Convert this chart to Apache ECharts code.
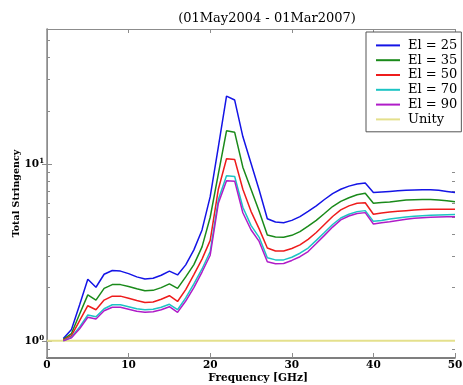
<!DOCTYPE html>
<html>
<head>
<meta charset="utf-8">
<script src="https://cdn.jsdelivr.net/npm/echarts@6/dist/echarts.min.js"></script>
<style>
  html, body { margin: 0; padding: 0; background: #fff; }
  #chart { width: 463px; height: 385px; }
</style>
</head>
<body>
<div id="chart"></div>
<script>
// frequency grid, GHz
const freqs = [];
for (let f = 2; f <= 50; f++) freqs.push(f);

const el25 = [
  1.03, 1.16, 1.6, 2.23, 2.01, 2.38, 2.50, 2.48, 2.40, 2.30,
  2.24, 2.26, 2.35, 2.48, 2.36, 2.69, 3.27, 4.24, 6.54, 12.5,
  24.2, 23.0, 14.3, 10.1, 7.13, 4.9, 4.7, 4.66, 4.8, 5.04,
  5.4, 5.8, 6.3, 6.8, 7.2, 7.5, 7.7, 7.8, 6.9, 6.95,
  7.0, 7.05, 7.1, 7.13, 7.15, 7.15, 7.1, 7.0, 6.9
];
const el35 = [
  1.02, 1.1, 1.42, 1.82, 1.70, 1.98, 2.08, 2.08, 2.03, 1.97,
  1.92, 1.93, 2.0, 2.10, 1.98, 2.3, 2.7, 3.4, 5.0, 8.8,
  15.4, 15.1, 9.6, 7.2, 5.4, 3.97, 3.87, 3.85, 3.95, 4.15,
  4.45, 4.8, 5.25, 5.75, 6.15, 6.45, 6.7, 6.83, 6.0, 6.05,
  6.1, 6.18, 6.25, 6.28, 6.3, 6.3, 6.25, 6.2, 6.12
];
const el50 = [
  1.01, 1.07, 1.3, 1.58, 1.50, 1.70, 1.79, 1.79, 1.74, 1.69,
  1.65, 1.66, 1.72, 1.80, 1.67, 1.95, 2.37, 2.9, 3.7, 7.2,
  10.7, 10.6, 7.2, 5.4, 4.3, 3.35, 3.22, 3.22, 3.33, 3.49,
  3.75, 4.1, 4.55, 5.05, 5.5, 5.8, 6.0, 6.04, 5.2, 5.28,
  5.35, 5.4, 5.45, 5.5, 5.53, 5.55, 5.55, 5.55, 5.55
];
const el70 = [
  1.0, 1.05, 1.2, 1.40, 1.37, 1.52, 1.60, 1.60, 1.56, 1.52,
  1.50, 1.51, 1.55, 1.61, 1.50, 1.75, 2.1, 2.55, 3.2, 6.3,
  8.59, 8.5, 5.7, 4.5, 3.85, 2.95, 2.87, 2.87, 2.97, 3.13,
  3.35, 3.7, 4.1, 4.55, 4.95, 5.2, 5.38, 5.45, 4.74, 4.8,
  4.88, 4.95, 5.02, 5.07, 5.1, 5.13, 5.15, 5.17, 5.18
];
const el90 = [
  1.0, 1.04, 1.17, 1.36, 1.33, 1.48, 1.55, 1.55, 1.51, 1.47,
  1.45, 1.46, 1.50, 1.56, 1.45, 1.68, 2.0, 2.45, 3.05, 6.0,
  8.05, 8.0, 5.3, 4.25, 3.65, 2.8, 2.73, 2.74, 2.85, 2.99,
  3.2, 3.55, 3.95, 4.4, 4.83, 5.08, 5.25, 5.31, 4.58, 4.65,
  4.72, 4.8, 4.87, 4.93, 4.97, 5.0, 5.02, 5.03, 5.04
];
const unityX = [0, 50];
const unityY = [1, 1];

const names = ["El = 25", "El = 35", "El = 50", "El = 70", "El = 90", "Unity"];
const colors = ["#1414e6", "#1a8a1a", "#ee1c1c", "#1cc4c4", "#b01cc8", "#e4e08c"];

const majorTicks = [1, 10];
const minorTicks = [0.9, 2, 3, 4, 5, 6, 7, 8, 9, 20, 30, 40, 50];

const serif = "DejaVu Serif";
const frame = "#8c8c8c";
const grid = { left: 47, right: 8, top: 29, bottom: 27, outerBoundsMode: "none", containLabel: false };

function pairs(xs, ys) {
  return xs.map((x, i) => [x, ys[i]]);
}

const chart = echarts.init(document.getElementById("chart"), null, { renderer: "canvas" });

const curves = [el25, el35, el50, el70, el90].map((vals, i) => ({
  name: names[i],
  type: "line",
  xAxisIndex: 0,
  yAxisIndex: 0,
  data: pairs(freqs, vals),
  showSymbol: false,
  symbol: "none",
  lineStyle: { color: colors[i], width: 1.5 },
  itemStyle: { color: colors[i] },
  z: 3 + i
}));

const unity = {
  name: names[5],
  type: "line",
  xAxisIndex: 0,
  yAxisIndex: 0,
  data: pairs(unityX, unityY),
  showSymbol: false,
  symbol: "none",
  lineStyle: { color: colors[5], width: 2 },
  itemStyle: { color: colors[5] },
  z: 2
};

const yBase = {
  type: "log",
  min: 0.8,
  max: 58,
  splitLine: { show: false },
  minorTick: { show: false }
};

const option = {
  animation: false,
  backgroundColor: "#fff",
  title: {
    text: "(01May2004 - 01Mar2007)",
    left: 262,
    top: 7,
    textAlign: "center",
    textStyle: { fontFamily: serif, fontSize: 13, fontWeight: "normal", color: "#000" }
  },
  legend: {
    orient: "vertical",
    left: 366,
    top: 32,
    data: names,
    icon: "rect",
    itemWidth: 24,
    itemHeight: 2,
    itemGap: 0,
    padding: [6, 4, 5, 10],
    backgroundColor: "#fff",
    borderColor: "#555",
    borderWidth: 1,
    borderRadius: 0,
    textStyle: { fontFamily: serif, fontSize: 13, color: "#000", lineHeight: 14.8, padding: [0, 0, 0, 3] }
  },
  grid: [
    Object.assign({}, grid),
    Object.assign({}, grid)
  ],
  xAxis: [
    {
      gridIndex: 0,
      type: "value",
      position: "bottom",
      min: 0,
      max: 50,
      interval: 10,
      name: "Frequency [GHz]",
      nameLocation: "middle",
      nameGap: 15,
      nameMoveOverlap: false,
      nameTextStyle: { fontFamily: serif, fontSize: 10.5, fontWeight: "bold", color: "#000", padding: [0, 0, 0, 14] },
      axisLine: { lineStyle: { color: "#555", width: 1.5 } },
      axisTick: { inside: true, length: 5, lineStyle: { color: frame } },
      axisLabel: { fontFamily: serif, fontSize: 10.5, fontWeight: "bold", color: "#000", margin: 2 },
      splitLine: { show: false }
    },
    {
      gridIndex: 0,
      type: "value",
      position: "top",
      min: 0,
      max: 50,
      interval: 10,
      axisLine: { lineStyle: { color: frame, width: 1 } },
      axisTick: { inside: true, length: 4, lineStyle: { color: frame } },
      axisLabel: { show: false },
      splitLine: { show: false }
    },
    {
      gridIndex: 1,
      type: "value",
      min: 0,
      max: 50,
      show: false
    }
  ],
  yAxis: [
    Object.assign({}, yBase, {
      gridIndex: 0,
      position: "left",
      name: "Total Stringency",
      nameLocation: "middle",
      nameGap: 25,
      nameMoveOverlap: false,
      nameTextStyle: { fontFamily: serif, fontSize: 9.5, fontWeight: "bold", color: "#000" },
      axisLine: { show: true, lineStyle: { color: frame, width: 1.5 } },
      axisTick: { inside: true, length: 5, customValues: majorTicks, lineStyle: { color: frame } },
      axisLabel: {
        customValues: majorTicks,
        margin: 3,
        formatter: v => (v < 5 ? "{b|10}{s|0}" : "{b|10}{s|1}"),
        rich: {
          b: { fontFamily: serif, fontSize: 10.5, fontWeight: "bold", color: "#000", lineHeight: 12 },
          s: { fontFamily: serif, fontSize: 7, fontWeight: "bold", color: "#000", lineHeight: 12, verticalAlign: "top", padding: [0, 0, 5, 0] }
        }
      }
    }),
    Object.assign({}, yBase, {
      gridIndex: 0,
      position: "right",
      axisLine: { show: true, lineStyle: { color: frame, width: 1 } },
      axisTick: { inside: true, length: 5, customValues: majorTicks, lineStyle: { color: frame } },
      axisLabel: { show: false }
    }),
    Object.assign({}, yBase, {
      gridIndex: 1,
      position: "left",
      axisLine: { show: false },
      axisTick: { inside: true, length: 3, customValues: minorTicks, lineStyle: { color: frame } },
      axisLabel: { show: false }
    }),
    Object.assign({}, yBase, {
      gridIndex: 1,
      position: "right",
      axisLine: { show: false },
      axisTick: { inside: true, length: 3, customValues: minorTicks, lineStyle: { color: frame } },
      axisLabel: { show: false }
    })
  ],
  series: curves.concat([unity])
};

chart.setOption(option);
</script>
</body>
</html>
